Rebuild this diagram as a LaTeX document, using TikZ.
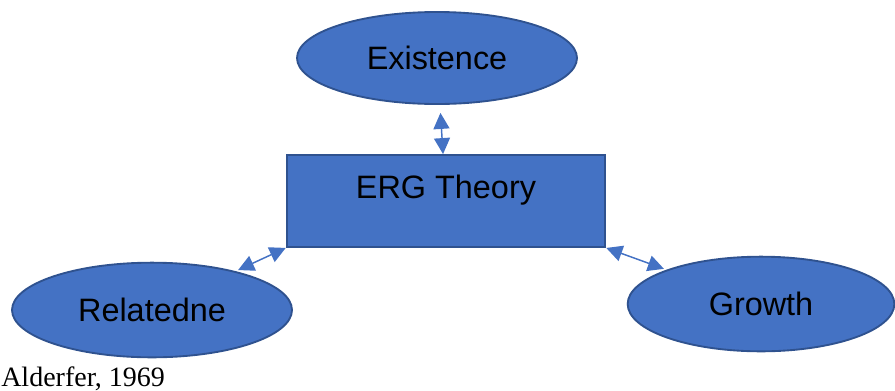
\documentclass[tikz,border=0pt]{standalone}
\usepackage{fontspec}
\setmainfont{Liberation Serif}
\setsansfont{Liberation Sans}
\usepackage{tikz}
\usetikzlibrary{shapes.geometric,arrows.meta,positioning}

\definecolor{ergfill}{HTML}{4472C4}
\definecolor{ergline}{HTML}{2F528F}

\begin{document}
\begin{tikzpicture}[
    x=0.75pt, y=-0.75pt,
    ergnode/.style={draw=ergline, fill=ergfill, line width=1.4pt, inner sep=0pt, text=black, font=\sffamily\fontsize{24.3}{29}\selectfont},
    ergellipse/.style={ergnode, ellipse, minimum width=210pt, minimum height=69pt},
    ergbox/.style={ergnode, rectangle, minimum width=239pt, minimum height=69pt, text depth=21pt},
    ergedge/.style={{Triangle[length=12pt,width=12pt]}-{Triangle[length=12pt,width=12pt]}, draw=ergfill, fill=ergfill, line width=1.1pt}
]
\useasboundingbox (0,0) rectangle (895,390);

\node[ergbox] (ERG) at (446,201) {ERG Theory};
\node[ergellipse] (E) at (437,58) {Existence};
\node[ergellipse, minimum height=71pt] (R) at (152,310) {Relatedne};
\node[ergellipse, minimum width=200pt, minimum height=71pt] (G) at (761,304) {Growth};
\node[anchor=base west, inner sep=0pt, font=\fontsize{21}{24}\selectfont] (src) at (1,386) {Alderfer, 1969};

\draw[ergedge, shorten <=6pt] (E) -- (ERG);
\draw[ergedge, shorten >=2pt] (ERG.south west) -- (R);
\draw[ergedge, shorten >=2pt] (ERG.south east) -- (G);
\end{tikzpicture}
\end{document}
